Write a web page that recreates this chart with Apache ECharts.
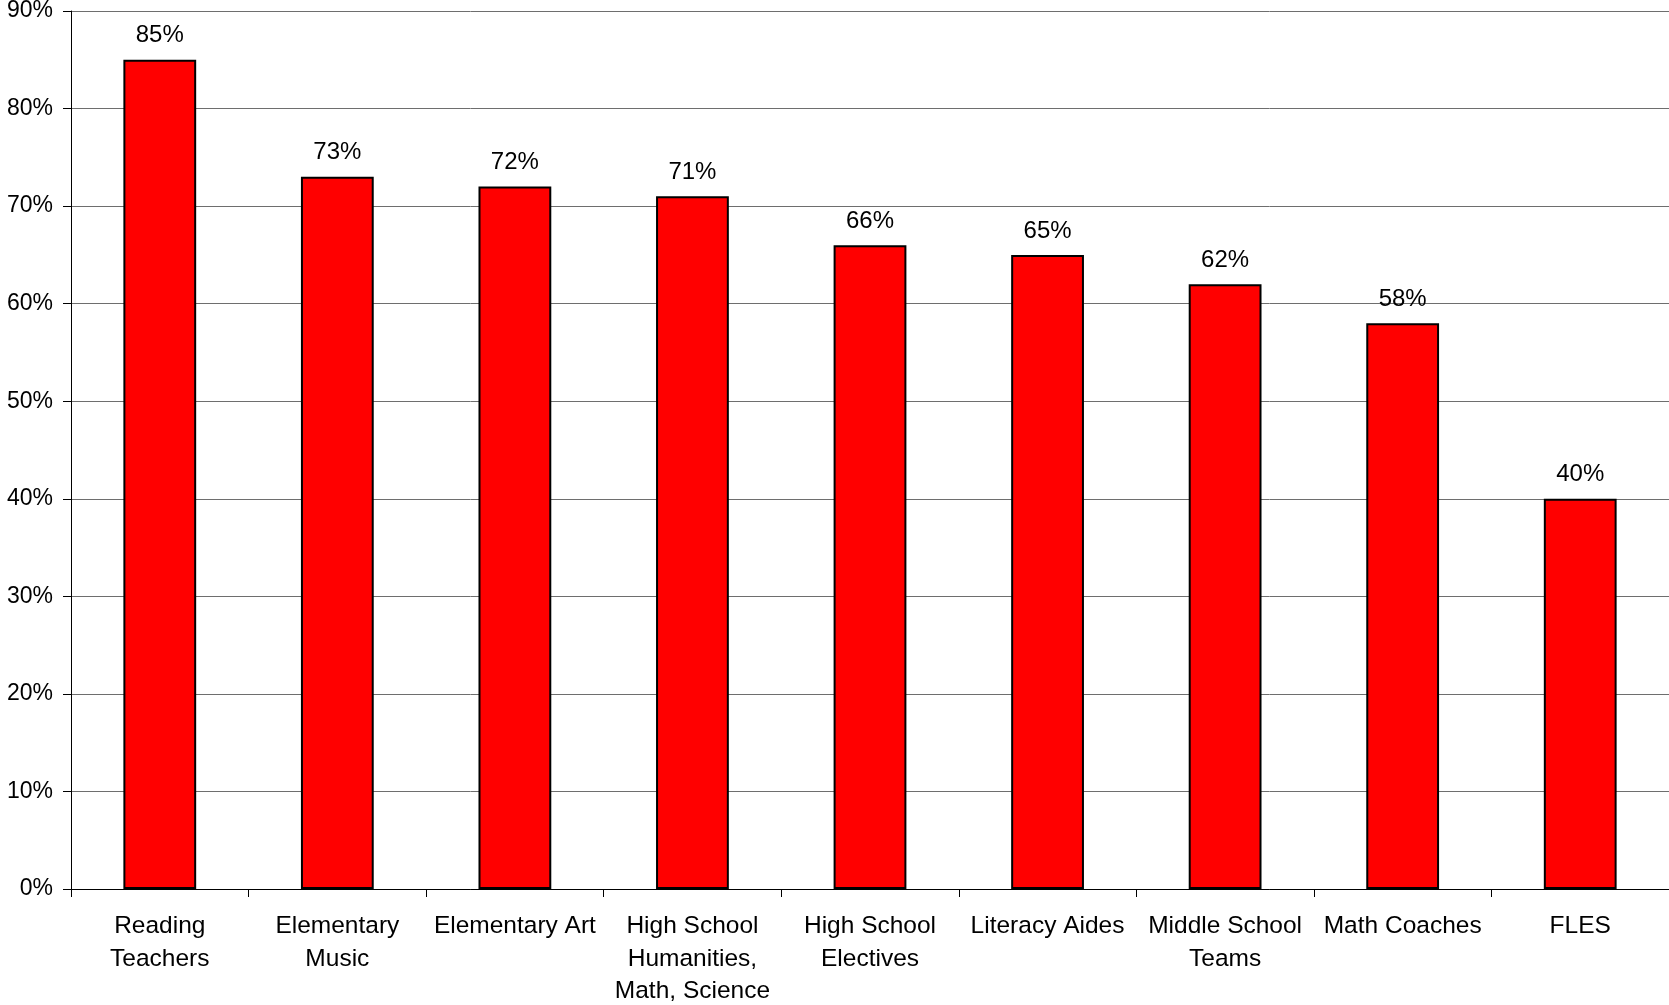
<!DOCTYPE html>
<html><head><meta charset="utf-8">
<script src="https://cdn.jsdelivr.net/npm/echarts@6/dist/echarts.min.js"></script>
<style>html,body{margin:0;padding:0;background:#fff}#c{width:1669px;height:1005px}</style>
</head><body><div id="c"></div>
<script>
const categories = ['Reading\nTeachers','Elementary\nMusic','Elementary Art','High School\nHumanities,\nMath, Science','High School\nElectives','Literacy Aides','Middle School\nTeams','Math Coaches','FLES'];
const values = [85, 73, 72, 71, 66, 65, 62, 58, 40];
const yTicks = [0, 10, 20, 30, 40, 50, 60, 70, 80, 90];
const font = '"Liberation Sans", Arial, Helvetica, sans-serif';
const chart = echarts.init(document.getElementById('c'));
chart.setOption({
  animation: false,
  backgroundColor: '#fff',
  grid: {left: 71, top: 11, right: 0, bottom: 116, containLabel: false, outerBoundsMode: 'none'},
  xAxis: {
    type: 'category', data: categories,
    axisLine: {lineStyle: {color: '#000', width: 1}},
    axisTick: {show: true, length: 8, lineStyle: {color: '#000'}},
    axisLabel: {interval: 0, margin: 21, fontSize: 24.5, lineHeight: 32.5, color: '#000', fontFamily: font}
  },
  yAxis: {
    type: 'value', min: yTicks[0], max: yTicks[yTicks.length-1], interval: 10,
    axisLine: {show: true, lineStyle: {color: '#000', width: 1}},
    axisTick: {show: true, length: 8, lineStyle: {color: '#000'}},
    axisLabel: {formatter: '{value}%', fontSize: 23, color: '#000', margin: 18, fontFamily: font},
    splitLine: {show: true, lineStyle: {color: '#6e6e6e', width: 1}}
  },
  series: [{
    type: 'bar', data: values, barWidth: '41%',
    itemStyle: {color: '#ff0000', borderColor: '#000', borderWidth: 2},
    label: {show: true, position: 'top', distance: 12, formatter: '{c}%', fontSize: 24, color: '#000', fontFamily: font}
  }]
});
</script></body></html>
